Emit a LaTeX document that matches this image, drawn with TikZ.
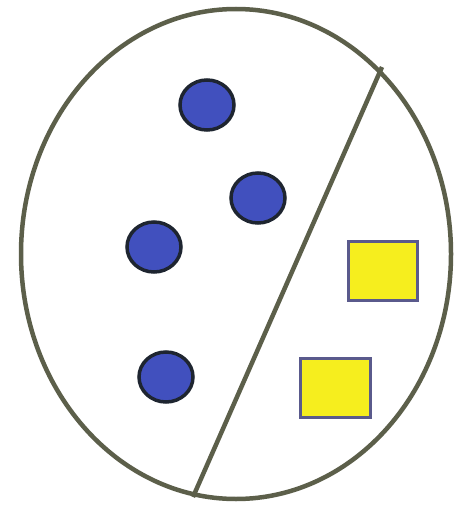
\documentclass[tikz,border=0pt]{standalone}
\begin{document}
\begin{tikzpicture}[x=1pt,y=-1pt,
  outline/.style={draw=olivegray,line width=4.5pt},
  dot/.style={draw=dotline,fill=dotblue,line width=3.5pt},
  sq/.style={draw=sqline,fill=sqyellow,line width=3pt}]
\definecolor{olivegray}{HTML}{5C5F4A}
\definecolor{dotline}{HTML}{1E2530}
\definecolor{dotblue}{HTML}{4150BE}
\definecolor{sqline}{HTML}{5A5A8C}
\definecolor{sqyellow}{HTML}{F6EE1E}
\useasboundingbox (0,0) rectangle (458,508);
\fill[white] (0,0) rectangle (458,508);
\draw[outline] (236,254) ellipse [x radius=215, y radius=245];
\coordinate (top) at (382,67);
\coordinate (bot) at (193,497);
\draw[outline] (top) -- (bot);
\draw[dot] (207,105) ellipse [x radius=27, y radius=25];
\draw[dot] (258,198) ellipse [x radius=27, y radius=25];
\draw[dot] (154,247) ellipse [x radius=27, y radius=25];
\draw[dot] (166,377) ellipse [x radius=27, y radius=25];
\draw[sq] (348,241) rectangle (417,300);
\draw[sq] (300,358) rectangle (370,417);
\end{tikzpicture}
\end{document}
